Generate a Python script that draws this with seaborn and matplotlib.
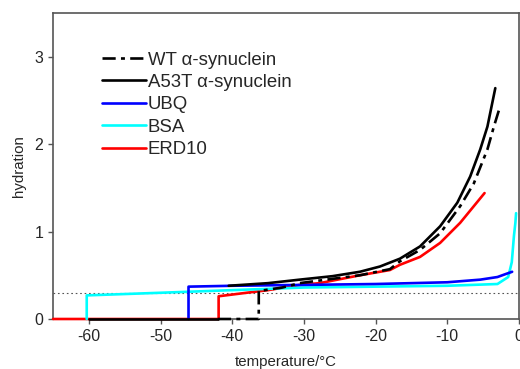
import pandas as pd
import seaborn as sns
import matplotlib.pyplot as plt
from matplotlib.lines import Line2D

wt_t = [-42, -36.3, -36.3, -33, -30.6, -27.8, -22.2, -18, -16.6, -13.8, -11, -8.2, -6.3, -4.4, -3.5, -2.6]
wt_h = [0, 0, 0.32, 0.36, 0.41, 0.44, 0.50, 0.57, 0.66, 0.79, 0.98, 1.29, 1.55, 1.94, 2.2, 2.44]

a53t_t = [-60, -42, -40.5, -35, -30.6, -26, -22.2, -19.4, -16.6, -13.8, -11.0, -8.6, -6.8, -5.4, -4.4, -3.3]
a53t_h = [0, 0, 0.38, 0.41, 0.45, 0.49, 0.54, 0.60, 0.69, 0.83, 1.06, 1.33, 1.63, 1.94, 2.2, 2.64]
a53t_seg = [0, 0, 1, 1, 1, 1, 1, 1, 1, 1, 1, 1, 1, 1, 1, 1]

ubq_t = [-46.1, -46.1, -40, -30, -20, -10, -5.4, -3, -1.65, -0.95]
ubq_h = [0, 0.37, 0.38, 0.39, 0.40, 0.42, 0.45, 0.48, 0.52, 0.54]

bsa_t = [-60.3, -60.3, -50, -40, -30, -20, -10, -3, -1.5, -1.0, -0.7, -0.5, -0.4]
bsa_h = [0, 0.27, 0.30, 0.33, 0.36, 0.37, 0.38, 0.40, 0.48, 0.65, 0.95, 1.1, 1.21]

erd_t = [-65, -41.9, -41.9, -38, -35, -30.6, -27.8, -22.2, -18, -16.6, -13.8, -11, -8.2, -6.3, -4.8]
erd_h = [0, 0, 0.26, 0.30, 0.33, 0.39, 0.41, 0.50, 0.56, 0.62, 0.71, 0.87, 1.10, 1.29, 1.44]

threshold = 0.30

sns.set_style("ticks")
plt.rcParams['font.family'] = ['Liberation Sans', 'DejaVu Sans']
plt.rcParams['axes.unicode_minus'] = False

fig = plt.figure(figsize=(5.2, 3.69), dpi=100)
ax = fig.add_axes([0.102, 0.1355, 0.896, 0.8295])

lw = 1.9
ax.axhline(threshold, color='#555555', ls=(0, (1.5, 2.5)), lw=0.8, zorder=1)

kw = dict(ax=ax, sort=False, estimator=None, lw=lw, clip_on=False, zorder=3)
sns.lineplot(x=erd_t, y=erd_h, color='red', label='ERD10', **kw)
sns.lineplot(x=bsa_t, y=bsa_h, color='cyan', label='BSA', **kw)
sns.lineplot(x=ubq_t, y=ubq_h, color='blue', label='UBQ', **kw)
df = pd.DataFrame({'t': a53t_t, 'h': a53t_h, 'seg': a53t_seg})
sns.lineplot(data=df, x='t', y='h', units='seg', color='black', **kw)
sns.lineplot(x=wt_t, y=wt_h, color='black', ls=(0, (5, 2, 1.5, 2)),
             label='WT \u03b1-synuclein', **kw)

handles, labels = ax.get_legend_handles_labels()
hmap = dict(zip(labels, handles))
hmap['A53T \u03b1-synuclein'] = Line2D([], [], color='black', lw=lw)
order = ['WT \u03b1-synuclein', 'A53T \u03b1-synuclein', 'UBQ', 'BSA', 'ERD10']
ax.legend([hmap[k] for k in order], order, loc='upper left', bbox_to_anchor=(0.105, 0.874),
          frameon=False, fontsize=13.4, handlelength=2.35, handletextpad=0.12,
          labelspacing=0.29, borderaxespad=0, borderpad=0)

ax.set_xlim(-65, 0)
ax.set_ylim(0, 3.5)
ax.set_xticks([-60, -50, -40, -30, -20, -10, 0])
ax.set_yticks([0, 1, 2, 3])
ax.set_xlabel('temperature/\u00b0C', fontsize=10.8, labelpad=8)
ax.set_ylabel('hydration', fontsize=10.8, labelpad=6)
ax.tick_params(labelsize=11.5, length=3.5, color='#555555', width=1)
for s in ax.spines.values():
    s.set_color('#555555')
    s.set_linewidth(1.2)

plt.savefig('out.png', dpi=100)
